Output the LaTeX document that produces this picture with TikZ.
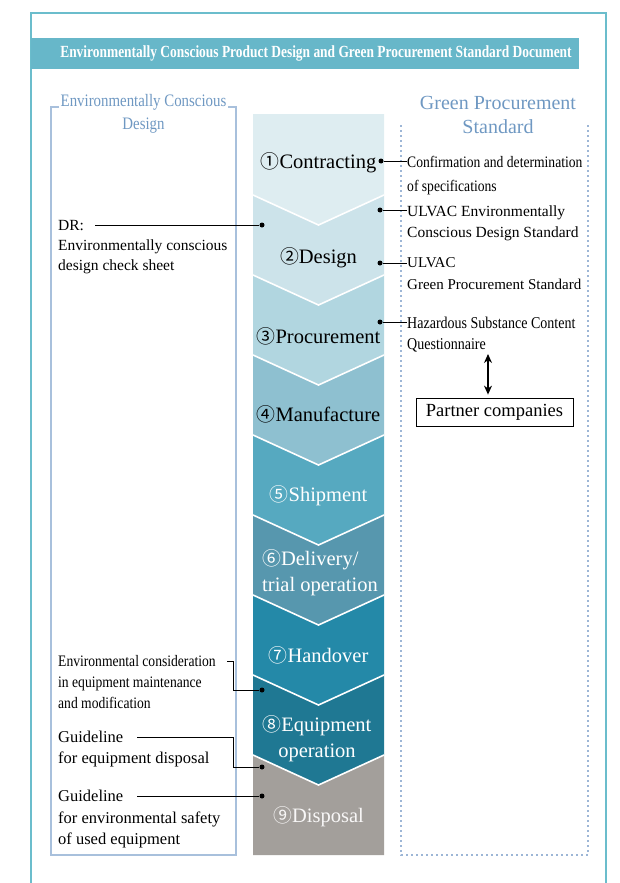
\documentclass[tikz,border=0pt]{standalone}
\usepackage{fontspec}
\setmainfont{Liberation Serif}
\newfontfamily\narrowfont[FakeStretch=0.85]{Liberation Serif}
\newfontfamily\headfont[FakeStretch=0.79]{Liberation Serif}
\newfontfamily\circfont[Scale=0.92]{Noto Sans CJK JP}
\usepackage{xcolor}
\usepackage{tikz}
\usetikzlibrary{arrows.meta}

\definecolor{frame}{HTML}{6BBDCC}
\definecolor{banner}{HTML}{67B7C9}
\definecolor{boxline}{HTML}{A8C0DC}
\definecolor{dotline}{HTML}{9DB6D6}
\definecolor{headblue}{HTML}{6F98C2}
\definecolor{sa}{HTML}{DEEDF1}
\definecolor{sb}{HTML}{CCE3EA}
\definecolor{sc}{HTML}{B1D6E0}
\definecolor{sd}{HTML}{8EC0D0}
\definecolor{se}{HTML}{56A9C0}
\definecolor{sf}{HTML}{5797AE}
\definecolor{sg}{HTML}{2489A8}
\definecolor{sh}{HTML}{1F7893}
\definecolor{si}{HTML}{A39F9B}

\newcommand\setfs[2]{\fontsize{#1}{#2}\selectfont}
\newcommand\cnum[1]{{\circfont #1}}

\begin{document}
\begin{tikzpicture}[x=1pt,y=-1pt,
      stepname/.style={font=\setfs{20.5}{26},align=center,inner sep=0pt},
      note/.style={anchor=north west,inner sep=0pt,align=left},
      dot/.style={circle,fill=black,inner sep=0pt,minimum size=5pt},
      lead/.style={line width=0.9pt},
      box/.style={rectangle,draw,line width=0.8pt,minimum width=157pt,minimum height=28pt,font=\setfs{18.5}{20}},
      arr/.style={{Stealth[length=9pt,width=8pt]}-{Stealth[length=9pt,width=8pt]},line width=1.2pt}]
      \useasboundingbox (0,0) rectangle (620,883);

      % frame and banner
      \draw[frame,line width=2pt] (31,883) -- (31,13) -- (606,13) -- (606,883);
      \fill[banner] (31,38) rectangle (579,69);
      \node[text=white,font=\headfont\bfseries\setfs{17}{20}] (title) at (316,53.5)
        {Environmentally Conscious Product Design and Green Procurement Standard Document};

      % left bracket box / right dotted box
      \draw[boxline,line width=2pt] (59,107) -- (51,107) -- (51,855) -- (236,855) -- (236,107) -- (228,107);
      \node[text=headblue,font=\narrowfont\setfs{17.5}{23},align=center] (ecd) at (143.5,113.5) {Environmentally Conscious\\Design};
      \draw[dotline,line width=1.8pt,dash pattern=on 2pt off 3pt] (401,125) -- (401,855) -- (588,855) -- (588,125);
      \node[text=headblue,font=\setfs{20}{24},align=center] (gps) at (498,115) {Green Procurement\\Standard};

      % chevron column
      \fill[sa] (253,114) -- (384,114) -- (384,195) -- (318.5,225) -- (253,195) -- cycle;
      \fill[sb] (253,195) -- (318.5,225) -- (384,195) -- (384,275) -- (318.5,305) -- (253,275) -- cycle;
      \fill[sc] (253,275) -- (318.5,305) -- (384,275) -- (384,355) -- (318.5,385) -- (253,355) -- cycle;
      \fill[sd] (253,355) -- (318.5,385) -- (384,355) -- (384,435) -- (318.5,465) -- (253,435) -- cycle;
      \fill[se] (253,435) -- (318.5,465) -- (384,435) -- (384,515) -- (318.5,545) -- (253,515) -- cycle;
      \fill[sf] (253,515) -- (318.5,545) -- (384,515) -- (384,595) -- (318.5,625) -- (253,595) -- cycle;
      \fill[sg] (253,595) -- (318.5,625) -- (384,595) -- (384,675) -- (318.5,705) -- (253,675) -- cycle;
      \fill[sh] (253,675) -- (318.5,705) -- (384,675) -- (384,755) -- (318.5,785) -- (253,755) -- cycle;
      \fill[si] (253,755) -- (318.5,785) -- (384,755) -- (384,855) -- (253,855) -- cycle;
      \draw[white,line width=1.6pt]
        (253,195) -- (318.5,225) -- (384,195)
        (253,275) -- (318.5,305) -- (384,275)
        (253,355) -- (318.5,385) -- (384,355)
        (253,435) -- (318.5,465) -- (384,435)
        (253,515) -- (318.5,545) -- (384,515)
        (253,595) -- (318.5,625) -- (384,595)
        (253,675) -- (318.5,705) -- (384,675)
        (253,755) -- (318.5,785) -- (384,755);

      \node[stepname] (contract) at (318.5,163) {\cnum{①}Contracting};
      \node[stepname] (design) at (318.5,258) {\cnum{②}Design};
      \node[stepname] (procure) at (318.5,336) {\cnum{③}Procurement};
      \node[stepname] (manuf) at (318.5,414) {\cnum{④}Manufacture};
      \node[stepname,text=white] (ship) at (318.5,496) {\cnum{⑤}Shipment};
      \node[stepname,text=white,align=left] (deliv) at (320,573) {\cnum{⑥}Delivery/\\trial operation};
      \node[stepname,text=white] (handover) at (318.5,655) {\cnum{⑦}Handover};
      \node[stepname,text=white] (operate) at (317,739) {\cnum{⑧}Equipment\\operation};
      \node[stepname,text=white!92!si] (disposal) at (318.5,817) {\cnum{⑨}Disposal};

      % dots on the column
      \node[dot] (dconf) at (381,161) {};
      \node[dot] (decds) at (380,210) {};
      \node[dot] (dgps) at (380,263) {};
      \node[dot] (dhaz) at (380,322) {};
      \node[dot] (ddr) at (262,225) {};
      \node[dot] (dmaint) at (262,690) {};
      \node[dot] (ddisp) at (262,767) {};
      \node[dot] (dsafe) at (262,796) {};

      % procurement side notes
      \node[note,font=\narrowfont\setfs{16}{24}] (conf) at (407,156) {Confirmation and determination\\of specifications};
      \node[note,font=\setfs{15.5}{21}] (ecds) at (407,206) {ULVAC Environmentally\\Conscious Design Standard};
      \node[note,font=\setfs{15}{22}] (gpstd) at (407,257) {ULVAC\\Green Procurement Standard};
      \node[note,font=\narrowfont\setfs{16.5}{20.5}] (haz) at (407,317) {Hazardous Substance Content\\Questionnaire};
      \node[box] (partner) at (494.5,412) {Partner companies};

      % design side notes
      \node[note,font=\setfs{15.5}{20}] (dr) at (58,220.5) {DR:\\Environmentally conscious\\design check sheet};
      \node[note,font=\narrowfont\setfs{16}{21}] (maint) at (58,655.5) {Environmental consideration\\in equipment maintenance\\and modification};
      \node[note,font=\setfs{16.5}{21}] (disp) at (58,731) {Guideline\\for equipment disposal};
      \node[note,font=\setfs{16.5}{21.5}] (safe) at (58,790) {Guideline\\for environmental safety\\of used equipment};

      \coordinate (drend) at (95,225);
      \coordinate (maintend) at (227,661);
      \coordinate (dispend) at (137,737);
      \coordinate (safeend) at (137,796);
      \coordinate (qa) at (488,354);

      % leaders
      \draw[lead] (dconf) -- (dconf -| conf.west);
      \draw[lead] (decds) -- (decds -| ecds.west);
      \draw[lead] (dgps) -- (dgps -| gpstd.west);
      \draw[lead] (dhaz) -- (dhaz -| haz.west);
      \draw[lead] (drend) -- (ddr);
      \draw[lead] (maintend) -- ++(6,0) |- (dmaint);
      \draw[lead] (dispend) -- ++(96,0) |- (ddisp);
      \draw[lead] (safeend) -- (dsafe);
      \draw[arr,shorten >=3pt] (qa) -- (qa |- partner.north);
    \end{tikzpicture}
\end{document}
